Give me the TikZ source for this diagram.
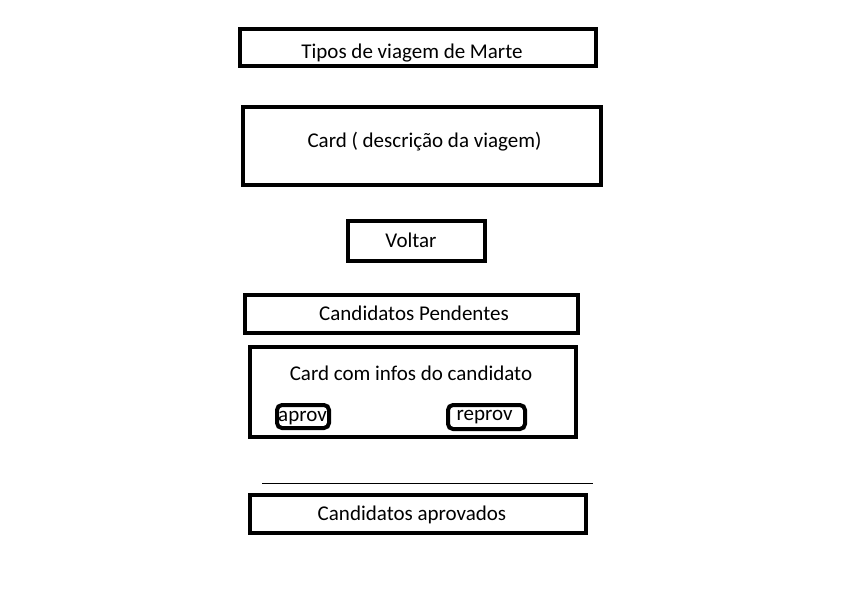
\documentclass[tikz,border=0pt]{standalone}
\usepackage{fontspec}
\setmainfont{Carlito}

\begin{document}
\begin{tikzpicture}[x=1pt,y=-1pt,
  box/.style={draw, line width=4pt, inner sep=0pt},
  btn/.style={draw, line width=4pt, rounded corners=5pt, inner sep=0pt},
  txt/.style={anchor=base, inner sep=0pt, font=\fontsize{21}{25}\selectfont}]
%\draw [lightgray, ultra thin] (0,0) grid [step=50] (856,608);
\useasboundingbox (0,0) rectangle (856,608);

\node [box, minimum width=356, minimum height=37] (tipos) at (418,47.5) {};
\node [txt] (tiposT) at (412,58) {Tipos de viagem de Marte};

\node [box, minimum width=358, minimum height=78] (card) at (422,146) {};
\node [txt] (cardT) at (424.5,147) {Card ( descrição da viagem)};

\node [box, minimum width=137, minimum height=40] (voltar) at (416.5,241) {};
\node [txt] (voltarT) at (411,247) {Voltar};

\node [box, minimum width=333, minimum height=38] (pend) at (411.5,314) {};
\node [txt] (pendT) at (414,320) {Candidatos Pendentes};

\node [box, minimum width=326, minimum height=90] (cand) at (413,392) {};
\node [txt] (candT) at (411,380) {Card com infos do candidato};

\node [btn, minimum width=52, minimum height=23] (aprov) at (303,416.5) {};
\node [txt] (aprovT) at (302.5,421.5) {aprov};
\node [btn, minimum width=77, minimum height=24] (reprov) at (486.5,417) {};
\node [txt] (reprovT) at (484.5,420) {reprov};

\coordinate (sepL) at (262,483);
\coordinate (sepR) at (593,483);
\draw [line width=1pt] (sepL) -- (sepR);

\node [box, minimum width=336, minimum height=38] (aprovados) at (418,514) {};
\node [txt] (aprovadosT) at (412,520) {Candidatos aprovados};
\end{tikzpicture}
\end{document}
